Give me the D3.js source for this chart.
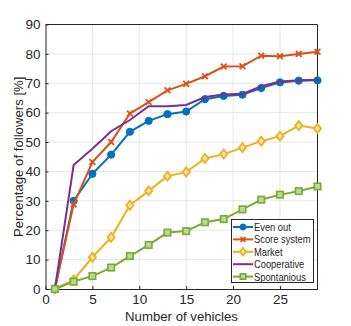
<!DOCTYPE html>
<html lang="en">
<head>
  <meta charset="UTF-8">
  <title>Percentage of followers</title>
  <script src="https://d3js.org/d3.v7.min.js"></script>
  <style>
    body { margin: 0; background: #fff; }
    text { font-family: "Liberation Sans", Arial, sans-serif; fill: #262626; }
  </style>
</head>
<body>
  <div id="chart"></div>
  <script>
    // Data
    const vehicles = [1, 3, 5, 7, 9, 11, 13, 15, 17, 19, 21, 23, 25, 27, 29];
    const evenOut = [0, 30, 39.2, 45.7, 53.5, 57.2, 59.5, 60.4, 64.6, 65.7, 66.1, 68.4, 70.3, 70.9, 71];
    const scoreSystem = [0, 28.8, 43.2, 50, 59.7, 63.6, 67.6, 69.8, 72.4, 75.7, 75.8, 79.4, 79.2, 80, 80.7];
    const market = [0, 3.1, 10.8, 17.6, 28.5, 33.4, 38.4, 39.8, 44.4, 45.9, 48.1, 50.3, 52, 55.6, 54.6];
    const cooperative = [0, 42.2, 47.7, 53.7, 57.5, 62.2, 62.2, 62.6, 65.3, 66.2, 66.4, 69, 70.6, 71, 71.2];
    const spontanious = [0, 2.5, 4.4, 7.3, 11.2, 15, 19.2, 19.7, 22.7, 23.8, 27.1, 30.4, 32.1, 33.3, 34.9];
    const xTicks = [0, 5, 10, 15, 20, 25];
    const yTicks = [0, 10, 20, 30, 40, 50, 60, 70, 80, 90];

    const series = [
      { name: 'Even out', values: evenOut, color: '#0072BD', marker: 'circle' },
      { name: 'Score system', values: scoreSystem, color: '#D95319', marker: 'cross' },
      { name: 'Market', values: market, color: '#EDB120', marker: 'diamond' },
      { name: 'Cooperative', values: cooperative, color: '#7E2F8E', marker: 'none' },
      { name: 'Spontanious', values: spontanious, color: '#77AC30', marker: 'square' }
    ];

    const width = 351, height = 326;
    const margin = { top: 24.5, right: 33.5, bottom: 37, left: 45.5 };

    const svg = d3.select('#chart').append('svg')
      .attr('width', width).attr('height', height);

    const x = d3.scaleLinear().domain([0, 29]).range([margin.left, width - margin.right]);
    const y = d3.scaleLinear().domain([0, 90]).range([height - margin.bottom, margin.top]);

    // grid
    svg.append('g').selectAll('line.gx').data(xTicks.filter(d => d > 0)).join('line')
      .attr('x1', d => x(d)).attr('x2', d => x(d))
      .attr('y1', y(0)).attr('y2', y(90))
      .attr('stroke', '#e6e6e6').attr('stroke-width', 1);
    svg.append('g').selectAll('line.gy').data(yTicks.filter(d => d > 0 && d < 90)).join('line')
      .attr('x1', x(0)).attr('x2', x(29))
      .attr('y1', d => y(d)).attr('y2', d => y(d))
      .attr('stroke', '#e6e6e6').attr('stroke-width', 1);

    // axes
    const xAxis = svg.append('g')
      .attr('transform', `translate(0,${y(0)})`)
      .call(d3.axisBottom(x).tickValues(xTicks).tickSizeInner(-3).tickSizeOuter(0).tickPadding(5));
    const yAxis = svg.append('g')
      .attr('transform', `translate(${x(0)},0)`)
      .call(d3.axisLeft(y).tickValues(yTicks).tickSizeInner(-3).tickSizeOuter(0).tickPadding(5));
    [xAxis, yAxis].forEach(a => {
      a.select('.domain').attr('stroke', '#262626');
      a.selectAll('.tick line').attr('stroke', '#262626');
      a.selectAll('.tick text').attr('font-size', 13.5).attr('fill', '#262626')
        .style('font-family', '"Liberation Sans", Arial, sans-serif');
    });

    // box top and right
    svg.append('line').attr('x1', x(0)).attr('x2', x(29)).attr('y1', y(90)).attr('y2', y(90))
      .attr('stroke', '#262626');
    svg.append('line').attr('x1', x(29)).attr('x2', x(29)).attr('y1', y(0)).attr('y2', y(90))
      .attr('stroke', '#262626');

    // axis labels
    svg.append('text')
      .attr('x', (x(0) + x(29)) / 2).attr('y', 321)
      .attr('text-anchor', 'middle').attr('font-size', 13.2)
      .text('Number of vehicles');
    svg.append('text')
      .attr('transform', `translate(23,${(y(0) + y(90)) / 2}) rotate(-90)`)
      .attr('text-anchor', 'middle').attr('font-size', 13.2)
      .text('Percentage of followers [%]');

    const line = d3.line().x((d, i) => x(vehicles[i])).y(d => y(d));

    function drawMarker(g, type, color, cx, cy, size) {
      if (type === 'circle') {
        g.append('circle').attr('cx', cx).attr('cy', cy).attr('r', size)
          .attr('fill', color).attr('stroke', color);
      } else if (type === 'cross') {
        const s = size * 0.8;
        g.append('path')
          .attr('d', `M${cx - s},${cy - s}L${cx + s},${cy + s}M${cx - s},${cy + s}L${cx + s},${cy - s}`)
          .attr('stroke', color).attr('stroke-width', 1.8).attr('fill', 'none');
      } else if (type === 'diamond') {
        const s = size * 1.25;
        g.append('path')
          .attr('d', `M${cx},${cy - s}L${cx + s * 0.8},${cy}L${cx},${cy + s}L${cx - s * 0.8},${cy}Z`)
          .attr('stroke', color).attr('stroke-width', 1.8).attr('fill', '#f9e3a8');
      } else if (type === 'square') {
        const s = size * 0.9;
        g.append('rect').attr('x', cx - s).attr('y', cy - s).attr('width', 2 * s).attr('height', 2 * s)
          .attr('stroke', color).attr('stroke-width', 1.6).attr('fill', '#bcd896');
      }
    }

    series.forEach(s => {
      const g = svg.append('g');
      g.append('path').datum(s.values).attr('d', line)
        .attr('fill', 'none').attr('stroke', s.color).attr('stroke-width', 2);
      s.values.forEach((v, i) => drawMarker(g, s.marker, s.color, x(vehicles[i]), y(v), 3.6));
    });

    // legend
    const lg = svg.append('g');
    lg.append('rect').attr('x', 231.5).attr('y', 219.5).attr('width', 82).attr('height', 63)
      .attr('fill', '#fff').attr('stroke', '#262626').attr('stroke-width', 1);
    series.forEach((s, i) => {
      const ly = 227 + i * 12.4;
      lg.append('line').attr('x1', 233).attr('x2', 253).attr('y1', ly).attr('y2', ly)
        .attr('stroke', s.color).attr('stroke-width', 2);
      drawMarker(lg, s.marker, s.color, 243, ly, 3);
      // narrow the legend text horizontally to match the condensed look
      lg.append('text').attr('transform', `translate(254,${ly + 4}) scale(0.85,1)`)
        .attr('font-size', 11)
        .text(s.name);
    });
  </script>
</body>
</html>
